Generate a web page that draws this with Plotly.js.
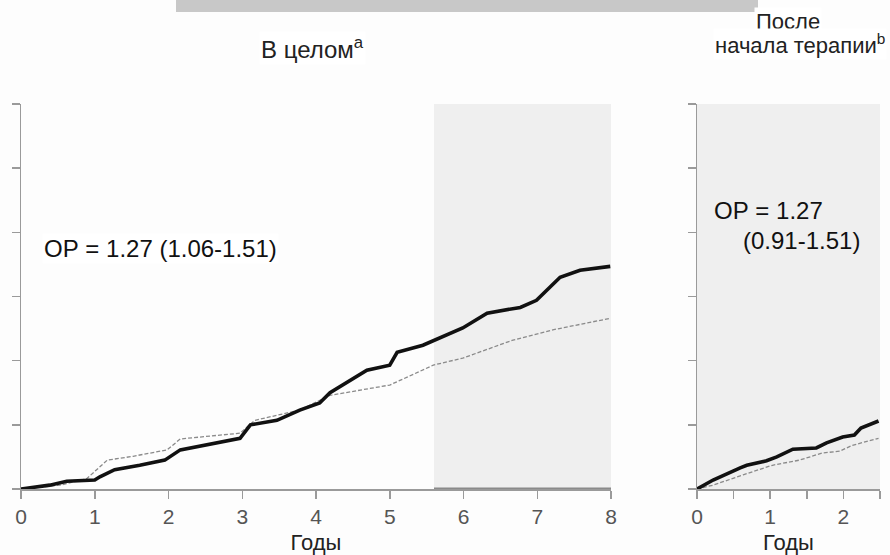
<!DOCTYPE html>
<html>
<head>
<meta charset="utf-8">
<script src="https://cdn.plot.ly/plotly-3.0.1.min.js"></script>
<style>html,body{margin:0;padding:0;background:#fdfdfd;}#chart{width:890px;height:555px;}</style>
</head>
<body>
<div id="chart"></div>
<script>
// Left panel (overall), years
var overallYears   = [0, 0.39, 0.62, 1.0, 1.07, 1.27, 1.61, 1.95, 2.16, 2.43, 2.97, 3.11, 3.47, 3.78, 4.05, 4.19, 4.69, 5.0, 5.10, 5.45, 5.99, 6.32, 6.77, 6.99, 7.31, 7.58, 7.99];
var overallSolid   = [0, 0.06, 0.12, 0.14, 0.19, 0.30, 0.37, 0.45, 0.61, 0.67, 0.79, 1.00, 1.07, 1.23, 1.34, 1.50, 1.85, 1.93, 2.13, 2.24, 2.51, 2.74, 2.83, 2.94, 3.30, 3.41, 3.47];
var overallDashX   = [0, 0.53, 0.89, 1.17, 1.52, 1.98, 2.16, 2.97, 3.17, 3.78, 4.19, 5.0, 5.59, 5.99, 6.67, 7.21, 7.99];
var overallDashed  = [0, 0.06, 0.16, 0.45, 0.51, 0.61, 0.78, 0.87, 1.07, 1.23, 1.46, 1.62, 1.93, 2.04, 2.32, 2.48, 2.66];
// Right panel (after therapy start)
var afterSolidX    = [0, 0.22, 0.59, 0.68, 0.95, 1.09, 1.31, 1.63, 1.77, 1.99, 2.15, 2.24, 2.48];
var afterSolid     = [0, 0.14, 0.33, 0.37, 0.44, 0.50, 0.62, 0.64, 0.72, 0.81, 0.84, 0.95, 1.06];
var afterDashX     = [0, 0.22, 0.63, 1.03, 1.40, 1.71, 1.95, 2.12, 2.48];
var afterDashed    = [0, 0.06, 0.22, 0.37, 0.45, 0.56, 0.59, 0.68, 0.79];
// Ticks
var leftTickVals   = [0,1,2,3,4,5,6,7,8];
var rightTickVals  = [0,1,2];
var rightMinorVals = [0.5,1.5,2.5];
var yTickVals      = [0,1,2,3,4,5,6];
var shadeStart = 5.6;

var FONT = 'Liberation Sans, Arial, sans-serif';
var solidStyle = {color:'#111', width:3.6};
var dashStyle = {color:'#8a8a8a', width:1.3, dash:'4px,2px'};

var traces = [
  {x: overallDashX, y: overallDashed, xaxis:'x', yaxis:'y', mode:'lines', line:dashStyle, hoverinfo:'skip'},
  {x: overallYears, y: overallSolid, xaxis:'x', yaxis:'y', mode:'lines', line:solidStyle, hoverinfo:'skip'},
  {x: afterDashX, y: afterDashed, xaxis:'x2', yaxis:'y2', mode:'lines', line:dashStyle, hoverinfo:'skip'},
  {x: afterSolidX, y: afterSolid, xaxis:'x2', yaxis:'y2', mode:'lines', line:solidStyle, hoverinfo:'skip'}
];

var yDom = [1-489/555, 1-104/555];
var axX = {
  showgrid:false, zeroline:false, showline:true, linecolor:'#9a9a9a', linewidth:1.5,
  ticks:'outside', ticklen:8, tickwidth:1.5, tickcolor:'#9a9a9a',
  tickfont:{family:FONT, size:21, color:'#555'}, tickmode:'array', fixedrange:true
};
var axY = {
  showgrid:false, zeroline:false, showline:true, linecolor:'#9a9a9a', linewidth:1.5,
  ticks:'outside', ticklen:8, tickwidth:1.5, tickcolor:'#9a9a9a', showticklabels:false,
  tickmode:'array', tickvals:yTickVals, range:[0,6], fixedrange:true
};
var xTitleFont = {family:FONT, size:22, color:'#222'};

var layout = {
  width:890, height:555, showlegend:false,
  paper_bgcolor:'#fdfdfd', plot_bgcolor:'rgba(0,0,0,0)',
  margin:{l:0,r:0,t:0,b:0},
  font:{family:FONT, color:'#222'},
  xaxis: Object.assign({}, axX, {domain:[21/890, 611/890], range:[0,8], tickvals:leftTickVals, anchor:'y',
          title:{text:'Годы', font:xTitleFont, standoff:9}}),
  yaxis: Object.assign({}, axY, {domain:yDom, anchor:'x'}),
  xaxis2: Object.assign({}, axX, {domain:[697/890, 880/890], range:[0,2.5], tickvals:rightTickVals, anchor:'y2',
          minor:{tickmode:'array', tickvals:rightMinorVals, ticks:'outside', ticklen:8, tickwidth:1.5, tickcolor:'#9a9a9a', showgrid:false},
          title:{text:'Годы', font:xTitleFont, standoff:9}}),
  yaxis2: Object.assign({}, axY, {domain:yDom, anchor:'x2'}),
  shapes:[
    {type:'rect', xref:'x', yref:'y', x0:shadeStart, x1:8, y0:0, y1:6, fillcolor:'#efefef', line:{width:0}, layer:'below'},
    {type:'rect', xref:'x2', yref:'y2', x0:0, x1:2.5, y0:0, y1:6, fillcolor:'#efefef', line:{width:0}, layer:'below'},
    {type:'line', xref:'x', yref:'y', x0:shadeStart, x1:8, y0:0, y1:0, line:{color:'#8a8a8a', width:3}},
    {type:'rect', xref:'paper', yref:'paper', x0:176/890, x1:758/890, y0:1-12/555, y1:1, fillcolor:'#c8c8c8', line:{width:0}}
  ],
  annotations:[
    {xref:'paper', yref:'paper', x:312/890, y:1-48/555, text:'В целом<sup>a</sup>', showarrow:false,
     font:{family:FONT, size:24, color:'#222'}, bgcolor:'#ffffff', xanchor:'center', yanchor:'middle'},
    {xref:'paper', yref:'paper', x:788/890, y:1-21/555, text:'После', showarrow:false,
     font:{family:FONT, size:22, color:'#222'}, bgcolor:'#ffffff', xanchor:'center', yanchor:'middle'},
    {xref:'paper', yref:'paper', x:887/890, y:1-44/555, text:'начала терапии<sup>b</sup>', showarrow:false,
     font:{family:FONT, size:22, color:'#222'}, bgcolor:'#ffffff', xanchor:'right', yanchor:'middle'},
    {xref:'paper', yref:'paper', x:42/890, y:1-248/555, text:'ОР = 1.27 (1.06-1.51)', showarrow:false,
     font:{family:FONT, size:24, color:'#111'}, bgcolor:'#ffffff', xanchor:'left', yanchor:'middle'},
    {xref:'paper', yref:'paper', x:712/890, y:1-210/555, text:'ОР = 1.27', showarrow:false,
     font:{family:FONT, size:24, color:'#111'}, xanchor:'left', yanchor:'middle'},
    {xref:'paper', yref:'paper', x:741/890, y:1-240/555, text:'(0.91-1.51)', showarrow:false,
     font:{family:FONT, size:24, color:'#111'}, xanchor:'left', yanchor:'middle'}
  ]
};

Plotly.newPlot('chart', traces, layout, {staticPlot:true, displayModeBar:false});
</script>
</body>
</html>
